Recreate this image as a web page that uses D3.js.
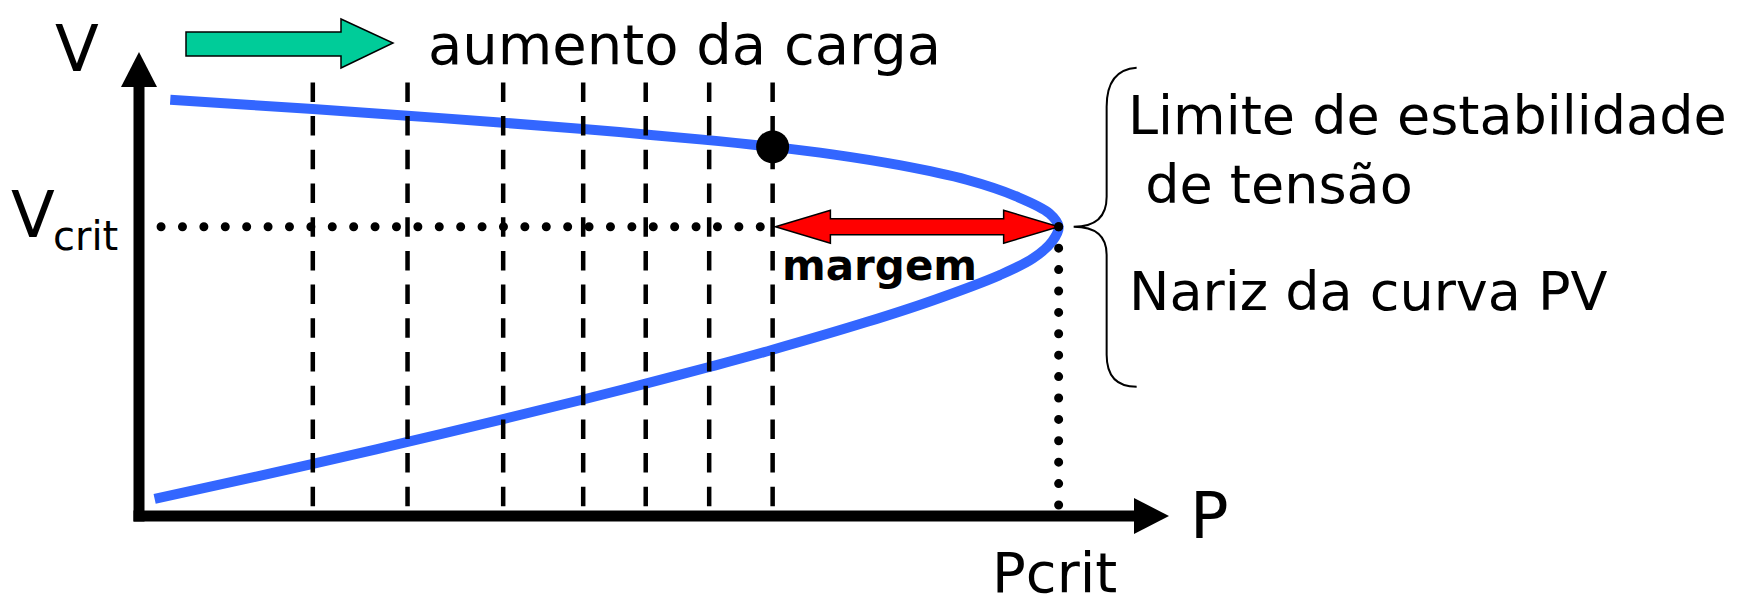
<!DOCTYPE html>
<html>
<head>
<meta charset="utf-8">
<script src="https://cdn.jsdelivr.net/npm/d3@7"></script>
<style>
  html, body { margin: 0; padding: 0; background: #fff; }
  svg { display: block; }
  text { font-family: "DejaVu Sans", sans-serif; fill: #000; }
</style>
</head>
<body>
<svg id="chart"></svg>
<script>
// P is normalised to Pcrit, V in the sketch's own units (0 on the P axis)
const upperP = [0.034, 0.189, 0.292, 0.396, 0.483, 0.545, 0.610, 0.689, 0.754, 0.827, 0.900, 0.954, 0.990, 1.000];
const upperV = [1.000, 0.978, 0.962, 0.945, 0.930, 0.918, 0.905, 0.887, 0.869, 0.843, 0.808, 0.768, 0.727, 0.695];
const lowerP = [1.000, 0.993, 0.972, 0.936, 0.863, 0.791, 0.688, 0.620, 0.551, 0.483, 0.396, 0.292, 0.189, 0.017];
const lowerV = [0.695, 0.660, 0.619, 0.579, 0.518, 0.466, 0.399, 0.358, 0.318, 0.280, 0.233, 0.178, 0.125, 0.041];
const loadSteps  = [0.189, 0.292, 0.396, 0.483, 0.551, 0.620, 0.689];
const pCrit      = 1.0;
const vCrit      = 0.695;
const operating  = { p: 0.689, v: 0.887 };
const labels     = { title: "aumento da carga", limit1: "Limite de estabilidade", limit2: " de tensão",
                     nose: "Nariz da curva PV", margin: "margem", v: "V", p: "P", vcrit: "crit", pcrit: "Pcrit" };

const W = 1748, H = 606;
const svg = d3.select("#chart").attr("width", W).attr("height", H);

const x = d3.scaleLinear().domain([0, 1.12]).range([139, 1169]);
const y = d3.scaleLinear().domain([0, 1.115]).range([516, 52]);

const curve = upperP.map((p, i) => ({ p, v: upperV[i] }))
  .concat(lowerP.slice(1).map((p, i) => ({ p, v: lowerV[i + 1] })));

// axes (plain thick lines with solid arrow heads)
const head = 35, headHalf = 18;
svg.append("line").attr("x1", x(0)).attr("y1", y(0)).attr("x2", x(0)).attr("y2", y(1.115) + head)
  .attr("stroke", "#000").attr("stroke-width", 11).attr("stroke-linecap", "square");
svg.append("path").attr("fill", "#000")
  .attr("d", `M${x(0) - headHalf},${y(1.115) + head}L${x(0)},${y(1.115)}L${x(0) + headHalf},${y(1.115) + head}Z`);
svg.append("line").attr("x1", x(0)).attr("y1", y(0)).attr("x2", x(1.12) - head).attr("y2", y(0))
  .attr("stroke", "#000").attr("stroke-width", 11).attr("stroke-linecap", "square");
svg.append("path").attr("fill", "#000")
  .attr("d", `M${x(1.12) - head},${y(0) - headHalf}L${x(1.12)},${y(0)}L${x(1.12) - head},${y(0) + headHalf}Z`);

// PV curve
const line = d3.line().x(d => x(d.p)).y(d => y(d.v)).curve(d3.curveCatmullRom.alpha(0.5));
svg.append("path").datum(curve).attr("d", line)
  .attr("fill", "none").attr("stroke", "#3366FF").attr("stroke-width", 10);

// load steps
svg.selectAll("line.step").data(loadSteps).join("line").attr("class", "step")
  .attr("x1", d => x(d)).attr("x2", d => x(d)).attr("y1", y(1.042)).attr("y2", y(0.022))
  .attr("stroke", "#000").attr("stroke-width", 4.5).attr("stroke-dasharray", "19.5 14.2");

// Vcrit and Pcrit dotted guides
svg.append("line").attr("x1", x(0.024)).attr("x2", x(0.692)).attr("y1", y(vCrit)).attr("y2", y(vCrit))
  .attr("stroke", "#000").attr("stroke-width", 9).attr("stroke-linecap", "round").attr("stroke-dasharray", "0 21.4");
svg.append("line").attr("x1", x(pCrit)).attr("x2", x(pCrit)).attr("y1", y(vCrit)).attr("y2", y(0.024))
  .attr("stroke", "#000").attr("stroke-width", 9).attr("stroke-linecap", "round").attr("stroke-dasharray", "0 21.4");

// margin double arrow
const ax0 = x(0.692), ax1 = x(pCrit), ay = y(vCrit), hl = 55, hh = 16.5, bh = 8;
svg.append("path").attr("fill", "#FF0000").attr("stroke", "#000").attr("stroke-width", 1.5)
  .attr("d", `M${ax0},${ay}L${ax0 + hl},${ay - hh}L${ax0 + hl},${ay - bh}L${ax1 - hl},${ay - bh}L${ax1 - hl},${ay - hh}` +
             `L${ax1},${ay}L${ax1 - hl},${ay + hh}L${ax1 - hl},${ay + bh}L${ax0 + hl},${ay + bh}L${ax0 + hl},${ay + hh}Z`);
svg.append("circle").attr("cx", x(pCrit)).attr("cy", y(vCrit)).attr("r", 4.5).attr("fill", "#000");

// operating point
svg.append("circle").attr("cx", x(operating.p)).attr("cy", y(operating.v)).attr("r", 16.5).attr("fill", "#000");

// load increase arrow
svg.append("path").attr("fill", "#00CC99").attr("stroke", "#000").attr("stroke-width", 1.5)
  .attr("d", "M186,32L341,32L341,19L393,43L341,68L341,56L186,56Z");
svg.append("text").attr("x", 428).attr("y", 64).attr("font-size", 56).text(labels.title);

// brace
const bx = x(pCrit) + 48, by = y(vCrit);
svg.append("path").attr("fill", "none").attr("stroke", "#000").attr("stroke-width", 2)
  .attr("d", `M${bx + 30},${by - 159}Q${bx},${by - 157} ${bx},${by - 120}L${bx},${by - 30}Q${bx},${by} ${bx - 33},${by}` +
             `Q${bx},${by} ${bx},${by + 28}L${bx},${by + 128}Q${bx},${by + 160} ${bx + 30},${by + 160}`);

svg.append("text").attr("x", 1128).attr("y", 134).attr("font-size", 54).text(labels.limit1);
svg.append("text").attr("x", 1128).attr("y", 203).attr("font-size", 54).attr("xml:space", "preserve").text(labels.limit2);
svg.append("text").attr("x", 1129).attr("y", 310).attr("font-size", 54).text(labels.nose);

// axis labels
svg.append("text").attr("x", 55).attr("y", 71).attr("font-size", 64).text(labels.v);
svg.append("text").attr("x", 1190).attr("y", 538).attr("font-size", 64).text(labels.p);
svg.append("text").attr("x", 11).attr("y", 237).attr("font-size", 64).text(labels.v);
svg.append("text").attr("x", 53).attr("y", 250).attr("font-size", 40).text(labels.vcrit);
svg.append("text").attr("x", x(pCrit) - 4).attr("y", 592).attr("font-size", 56).attr("text-anchor", "middle").text(labels.pcrit);
svg.append("text").attr("x", 782).attr("y", 280).attr("font-size", 42).attr("font-weight", "bold").text(labels.margin);
</script>
</body>
</html>
